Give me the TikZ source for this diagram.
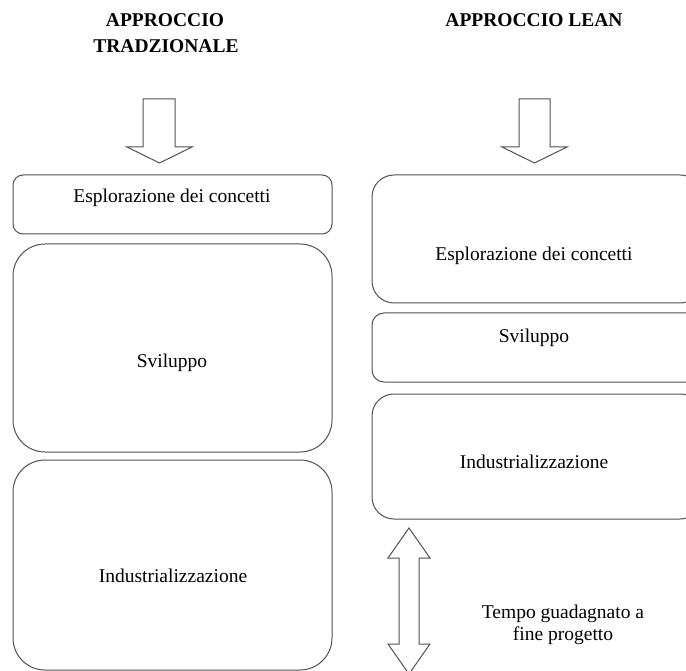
\documentclass[tikz,border=0pt]{standalone}
\usepackage{fontspec}
\setmainfont{Liberation Serif}
\begin{document}
\begin{tikzpicture}[x=1pt,y=-1pt,
  outline/.style={draw=black!68,line width=1pt},
  phase/.style={outline,fill=white,inner sep=0pt,outer sep=0pt},
  label/.style={anchor=base,inner sep=0pt,font=\fontsize{19.5}{24}\selectfont},
  heading/.style={anchor=base,inner sep=0pt,font=\fontsize{19.5}{24}\selectfont\bfseries},
  blockarrow/.style={outline,fill=white,line join=miter}]
\useasboundingbox (0,0) rectangle (686,671);
\clip (0,0) rectangle (686,671);

% column headings
\node[heading] (hT1) at (165,27) {APPROCCIO};
\node[heading] (hT2) at (166,53) {TRADZIONALE};
\node[heading] (hL)  at (534,27) {APPROCCIO LEAN};

% entry arrows
\draw[blockarrow] (143,99) -- (175,99) -- (175,147) -- (192,147) -- (159.5,163)
  -- (127,147) -- (143,147) -- cycle;
\draw[blockarrow] (519,99) -- (550,99) -- (550,147) -- (567,147) -- (534.5,163)
  -- (502,147) -- (519,147) -- cycle;

% traditional approach phases
\node[phase,minimum width=319pt,minimum height=59pt,rounded corners=10pt] (t1) at (172.5,204.5) {};
\node[phase,minimum width=319pt,minimum height=208pt,rounded corners=32pt] (t2) at (172.5,348) {};
\node[phase,minimum width=319pt,minimum height=210pt,rounded corners=32pt] (t3) at (172.5,565) {};
\node[label] (t1txt) at (172,203) {Esplorazione dei concetti};
\node[label] (t2txt) at (172,367) {Sviluppo};
\node[label] (t3txt) at (173,582) {Industrializzazione};

% lean approach phases (they run past the right margin)
\node[phase,minimum width=330pt,minimum height=128pt,rounded corners=22pt] (l1) at (537,239) {};
\node[phase,minimum width=330pt,minimum height=69pt,rounded corners=12pt] (l2) at (537,347.5) {};
\node[phase,minimum width=330pt,minimum height=125pt,rounded corners=22pt] (l3) at (537,456.5) {};
\node[label] (l1txt) at (534,261) {Esplorazione dei concetti};
\node[label] (l2txt) at (534,342) {Sviluppo};
\node[label] (l3txt) at (534,468) {Industrializzazione};

% time saved at project end
\draw[blockarrow] (409,528) -- (430,558) -- (419,558) -- (419,644) -- (430,644)
  -- (409,674) -- (388,644) -- (399,644) -- (399,558) -- (388,558) -- cycle;
\node[label] (gain1) at (563,618) {Tempo guadagnato a};
\node[label] (gain2) at (563,640) {fine progetto};
\end{tikzpicture}
\end{document}
